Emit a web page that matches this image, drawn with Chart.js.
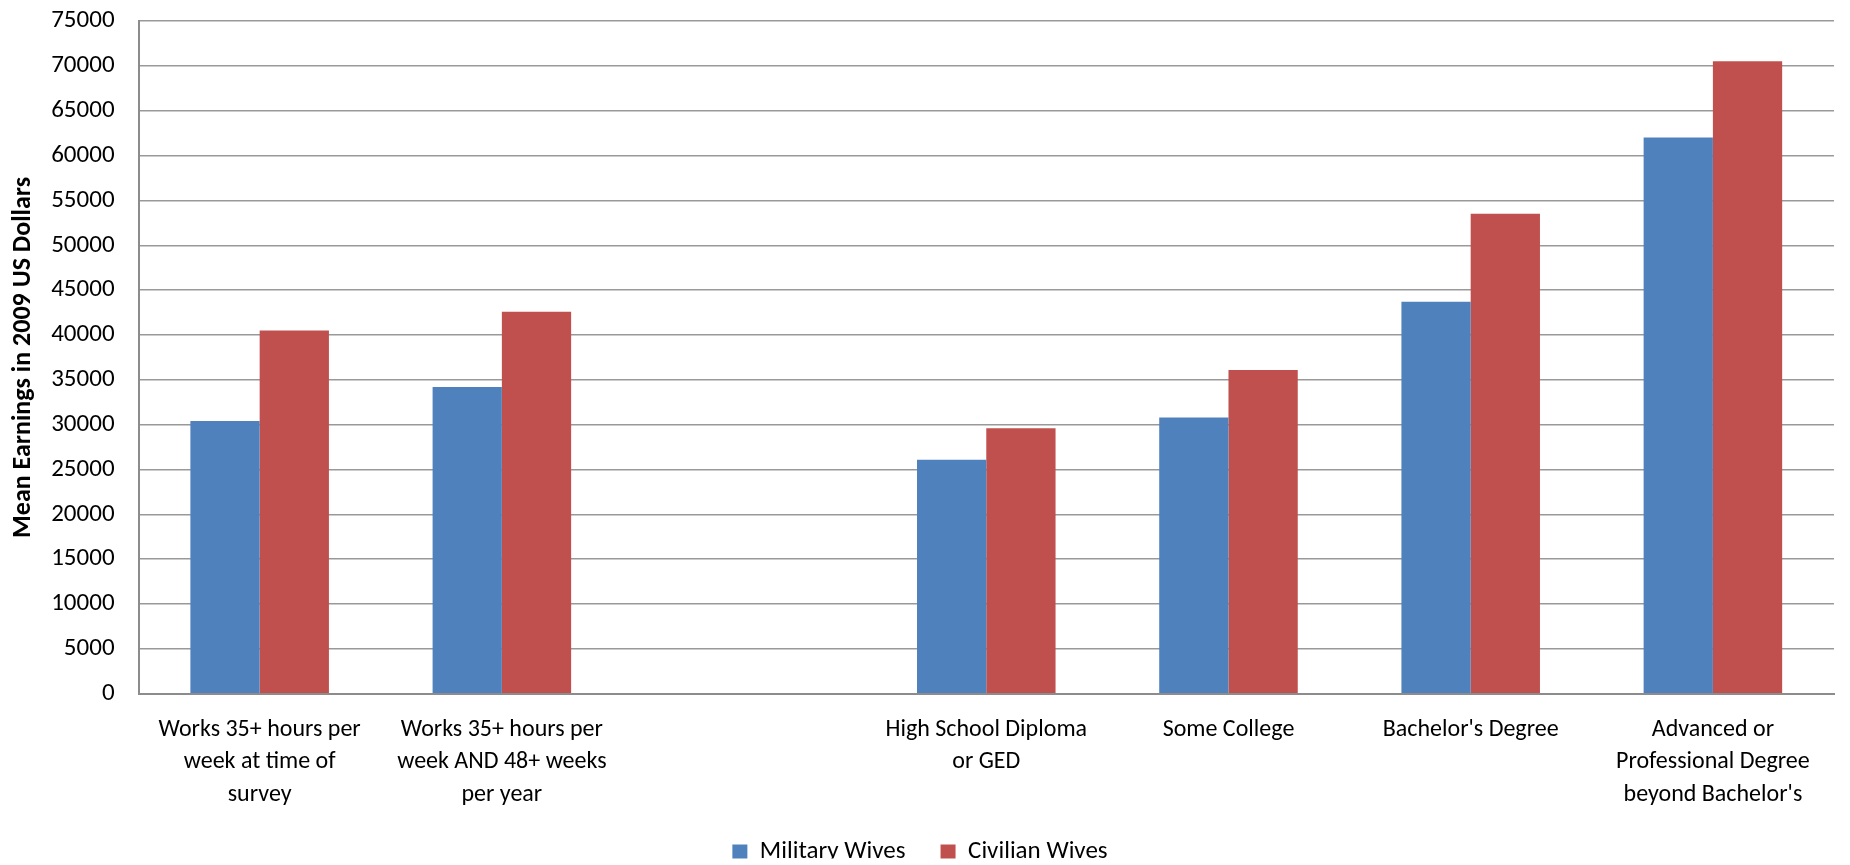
<!DOCTYPE html>
<html>
<head>
<meta charset="utf-8">
<script src="https://cdn.jsdelivr.net/npm/chart.js@4"></script>
<style>
    html, body { margin: 0; padding: 0; background: #fff; }
    #wrap { width: 1850px; height: 865px; position: relative; }
</style>
</head>
<body>
<div id="wrap"><canvas id="earnChart"></canvas></div>
<script>
/* ================= DATA ================= */
const categories = [
    ["Works 35+ hours per", "week at time of", "survey"],
    ["Works 35+ hours per", "week AND 48+ weeks", "per year"],
    "",
    ["High School Diploma", "or GED"],
    "Some College",
    "Bachelor's Degree",
    ["Advanced or", "Professional Degree", "beyond Bachelor's"]
];
const militaryWives = [30400, 34200, null, 26100, 30800, 43700, 62000];
const civilianWives = [40500, 42600, null, 29600, 36100, 53500, 70500];
const yTicks = [0, 5000, 10000, 15000, 20000, 25000, 30000, 35000,
                40000, 45000, 50000, 55000, 60000, 65000, 70000, 75000];

const FONT = "Carlito, Lato, 'Open Sans', sans-serif";
const LEGEND_GAP = 35;

// Legend: keep the wide gap between items but not the tall box it implies,
// and put the text line where the original has it
const legendFix = {
    id: 'legendFix',
    beforeLayout(chart) {
        const lg = chart.legend;
        if (!lg || lg._fitWrapped) return;
        const fit = lg.fit;
        lg.fit = function () {
            fit.call(this);
            this.height -= 16;
        };
        lg._fitWrapped = true;
    },
    afterLayout(chart) {
        const lg = chart.legend;
        if (!lg) return;
        const h = lg.bottom - lg.top;
        lg.top = 852 - LEGEND_GAP - 12.5;
        lg.bottom = lg.top + h;
    }
};

/* ================= CHART ================= */
new Chart(document.getElementById("earnChart"), {
    type: 'bar',
    data: {
        labels: categories,
        datasets: [
            { label: 'Military Wives', data: militaryWives, backgroundColor: '#4F81BD' },
            { label: 'Civilian Wives', data: civilianWives, backgroundColor: '#C0504D' }
        ]
    },
    options: {
        responsive: true,
        maintainAspectRatio: false,
        animation: false,
        layout: { padding: { top: 0, right: 16, left: 6, bottom: 0 } },
        datasets: { bar: { categoryPercentage: 0.572, barPercentage: 1.0 } },
        plugins: {
            tooltip: { enabled: false },
            legend: {
                position: 'bottom',
                labels: {
                    font: { family: FONT, size: 25 },
                    color: '#000',
                    boxWidth: 15,
                    boxHeight: 15,
                    padding: LEGEND_GAP
                }
            }
        },
        scales: {
            x: {
                grid: { display: false, drawTicks: true, tickLength: 20, tickColor: 'rgba(0,0,0,0)' },
                border: { color: '#8c8c8c', width: 2 },
                ticks: {
                    color: '#000',
                    font: { family: FONT, size: 24, lineHeight: 1.35 },
                    maxRotation: 0,
                    autoSkip: false,
                    padding: 0
                }
            },
            y: {
                min: 0,
                max: 75000,
                afterBuildTicks: (axis) => { axis.ticks = yTicks.map(v => ({ value: v })); },
                grid: { color: '#999', lineWidth: 1.5, drawTicks: true, tickLength: 18, tickColor: 'rgba(0,0,0,0)' },
                border: { color: '#8c8c8c', width: 2 },
                ticks: {
                    color: '#000',
                    font: { family: FONT, size: 25 },
                    padding: 6,
                    callback: (v) => String(v)
                },
                title: {
                    display: true,
                    text: 'Mean Earnings in 2009 US Dollars',
                    color: '#000',
                    font: { family: FONT, size: 26, weight: 'bold' },
                    padding: { top: 2, bottom: 6 }
                }
            }
        }
    },
    plugins: [legendFix]
});
</script>
</body>
</html>
